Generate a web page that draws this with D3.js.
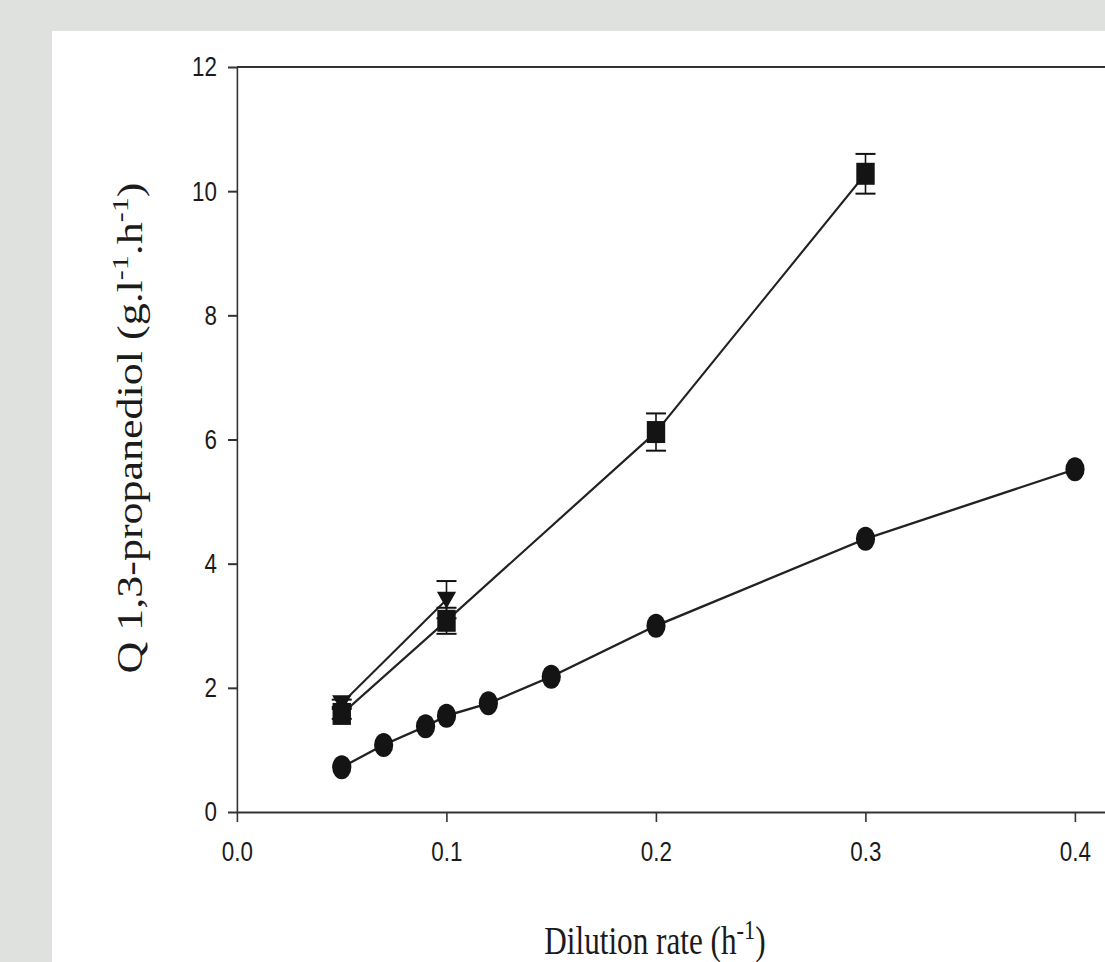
<!DOCTYPE html>
<html>
<head>
<meta charset="utf-8">
<script src="https://cdn.jsdelivr.net/npm/d3@7"></script>
<style>
  html, body { margin: 0; padding: 0; background: #dfe1df; }
  svg { display: block; }
</style>
</head>
<body>
<script>
// ---- data ----
const circleX = [0.05, 0.07, 0.09, 0.10, 0.12, 0.15, 0.20, 0.30, 0.40];
const circleY = [0.72, 1.08, 1.38, 1.55, 1.75, 2.18, 3.00, 4.40, 5.52];
const squareX = [0.05, 0.10, 0.20, 0.30];
const squareY = [1.58, 3.08, 6.12, 10.28];
const squareErr = [0.08, 0.21, 0.30, 0.32];
const triangleX = [0.05, 0.10];
const triangleY = [1.75, 3.42];
const triangleErr = [0.06, 0.30];
const xTicks = [0.0, 0.1, 0.2, 0.3, 0.4];
const yTicks = [0, 2, 4, 6, 8, 10, 12];

// ---- layout ----
const W = 1105, H = 962;
const sx = 0.8; // horizontal compression of the original figure
const svg = d3.select("body").append("svg").attr("width", W).attr("height", H);
svg.append("rect").attr("width", W).attr("height", H).attr("fill", "#dfe1df");
svg.append("rect").attr("x", 52).attr("y", 31).attr("width", W - 52).attr("height", H - 31).attr("fill", "#ffffff");

const g = svg.append("g").attr("transform", `scale(${sx},1)`);

const x = d3.scaleLinear().domain([0, 0.42]).range([237 / sx, (237 + 0.42 * 2095) / sx]);
const y = d3.scaleLinear().domain([0, 12]).range([812, 67]);

const axisColor = "#333";
const textColor = "#1b1b1b";

// axes
const yAxis = g.append("g").attr("transform", `translate(${x(0)},0)`)
  .call(d3.axisLeft(y).tickValues(yTicks).tickSize(9 / sx).tickSizeOuter(0).tickPadding(11 / sx));
const xAxis = g.append("g").attr("transform", `translate(0,${y(0)})`)
  .call(d3.axisBottom(x).tickValues(xTicks).tickFormat(d3.format(".1f")).tickSize(10).tickSizeOuter(0).tickPadding(19));
[yAxis, xAxis].forEach(a => {
  a.selectAll("path, line").attr("stroke", axisColor).attr("stroke-width", 2);
  a.selectAll("text").attr("fill", textColor)
    .style("font-family", "'Liberation Sans', Arial, sans-serif").style("font-size", "28px");
});
// top frame line
g.append("line").attr("x1", x(0)).attr("x2", x(0.42)).attr("y1", y(12)).attr("y2", y(12))
  .attr("stroke", axisColor).attr("stroke-width", 2);

// lines
const lineGen = d3.line().x(d => x(d[0])).y(d => y(d[1]));
const lineColor = "#222";
function drawLine(xs, ys) {
  g.append("path").datum(xs.map((v, i) => [v, ys[i]]))
    .attr("d", lineGen).attr("fill", "none").attr("stroke", lineColor).attr("stroke-width", 2.4);
}
drawLine(circleX, circleY);
drawLine(squareX, squareY);
drawLine(triangleX, triangleY);

// error bars
function drawErr(xs, ys, es) {
  const cap = 12.5;
  xs.forEach((v, i) => {
    const cx = x(v), top = y(ys[i] + es[i]), bot = y(ys[i] - es[i]);
    const eg = g.append("g").attr("stroke", "#111").attr("stroke-width", 2);
    eg.append("line").attr("x1", cx).attr("x2", cx).attr("y1", top).attr("y2", bot);
    eg.append("line").attr("x1", cx - cap).attr("x2", cx + cap).attr("y1", top).attr("y2", top);
    eg.append("line").attr("x1", cx - cap).attr("x2", cx + cap).attr("y1", bot).attr("y2", bot);
  });
}
drawErr(squareX, squareY, squareErr);
drawErr(triangleX, triangleY, triangleErr);

const markColor = "#141414";
// circles
g.selectAll("circle.c").data(circleX.map((v, i) => [v, circleY[i]])).enter().append("circle")
  .attr("cx", d => x(d[0])).attr("cy", d => y(d[1])).attr("r", 12).attr("fill", markColor);
// triangles (down)
g.selectAll("path.t").data(triangleX.map((v, i) => [v, triangleY[i]])).enter().append("path")
  .attr("d", d => {
    const cx = x(d[0]), cy = y(d[1]);
    return `M${cx - 12},${cy - 8}L${cx + 12},${cy - 8}L${cx},${cy + 9}Z`;
  }).attr("fill", markColor);
// squares
g.selectAll("rect.s").data(squareX.map((v, i) => [v, squareY[i]])).enter().append("rect")
  .attr("x", d => x(d[0]) - 11.5).attr("y", d => y(d[1]) - 11).attr("width", 23).attr("height", 22)
  .attr("fill", markColor);

// axis titles
const serif = "'Liberation Serif', 'Times New Roman', serif";
const xt = g.append("text").attr("x", 655 / sx).attr("y", 954).attr("text-anchor", "middle")
  .attr("fill", textColor).style("font-family", serif).style("font-size", "39px");
xt.append("tspan").text("Dilution rate (h");
xt.append("tspan").attr("dy", -15).style("font-size", "28px").text("-1");
xt.append("tspan").attr("dy", 15).text(")");

const yt = g.append("text").attr("transform", `translate(${142 / sx},428) rotate(-90)`).attr("text-anchor", "middle")
  .attr("fill", textColor).style("font-family", serif).style("font-size", "44px");
yt.append("tspan").text("Q 1,3-propanediol (g.l");
yt.append("tspan").attr("dy", -17).style("font-size", "30px").text("-1");
yt.append("tspan").attr("dy", 17).text(".h");
yt.append("tspan").attr("dy", -17).style("font-size", "30px").text("-1");
yt.append("tspan").attr("dy", 17).text(")");
</script>
</body>
</html>
